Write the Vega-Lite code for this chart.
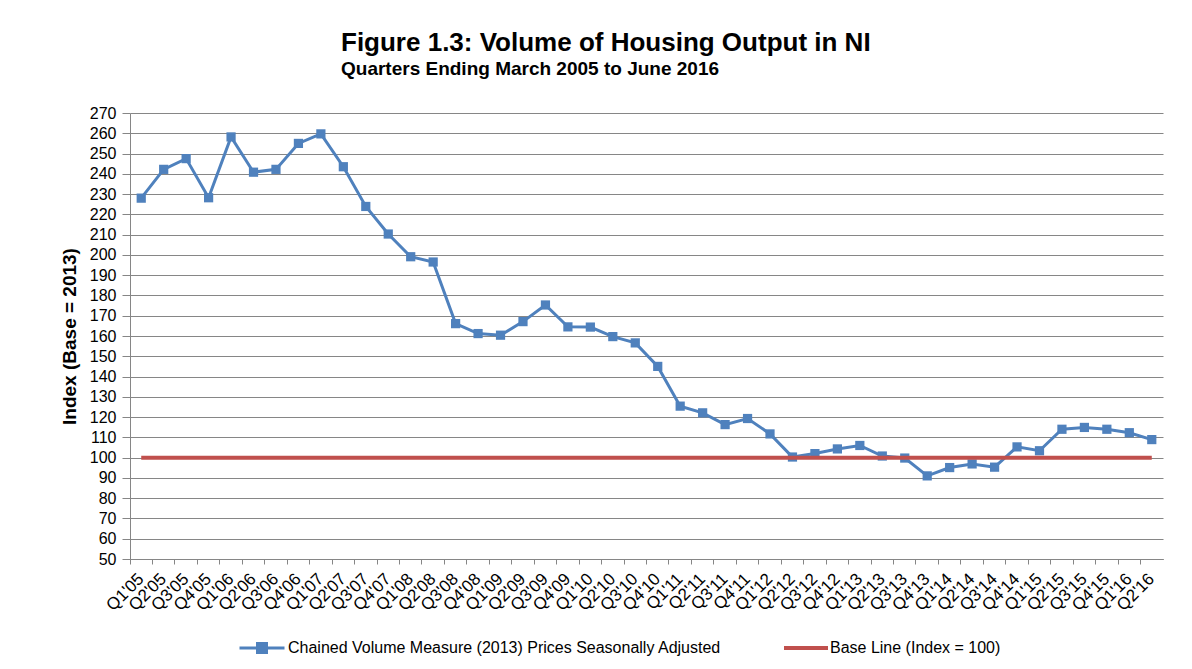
{
  "$schema": "https://vega.github.io/schema/vega-lite/v6.json",
  "width": 1033,
  "height": 446,
  "autosize": {"type": "none"},
  "padding": {"left": 130, "top": 113, "right": 29, "bottom": 110},
  "background": "white",
  "title": {
    "text": "Figure 1.3: Volume of Housing Output in NI",
    "subtitle": "Quarters Ending March 2005 to June 2016",
    "anchor": "start",
    "frame": "group",
    "dx": 211,
    "offset": 26,
    "font": "Liberation Sans",
    "fontSize": 26,
    "fontWeight": "bold",
    "color": "black",
    "subtitleFont": "Liberation Sans",
    "subtitleFontSize": 19,
    "subtitleFontWeight": "bold",
    "subtitleColor": "black",
    "subtitlePadding": 4
  },
  "data": {
    "values": [
      {"q": "Q1'05", "v": 228, "base": 100},
      {"q": "Q2'05", "v": 242.2, "base": 100},
      {"q": "Q3'05", "v": 247.5, "base": 100},
      {"q": "Q4'05", "v": 228.2, "base": 100},
      {"q": "Q1'06", "v": 258.2, "base": 100},
      {"q": "Q2'06", "v": 240.8, "base": 100},
      {"q": "Q3'06", "v": 242.2, "base": 100},
      {"q": "Q4'06", "v": 255, "base": 100},
      {"q": "Q1'07", "v": 259.7, "base": 100},
      {"q": "Q2'07", "v": 243.5, "base": 100},
      {"q": "Q3'07", "v": 223.9, "base": 100},
      {"q": "Q4'07", "v": 210.3, "base": 100},
      {"q": "Q1'08", "v": 199.1, "base": 100},
      {"q": "Q2'08", "v": 196.5, "base": 100},
      {"q": "Q3'08", "v": 166.1, "base": 100},
      {"q": "Q4'08", "v": 161.2, "base": 100},
      {"q": "Q1'09", "v": 160.4, "base": 100},
      {"q": "Q2'09", "v": 167.1, "base": 100},
      {"q": "Q3'09", "v": 175.3, "base": 100},
      {"q": "Q4'09", "v": 164.5, "base": 100},
      {"q": "Q1'10", "v": 164.4, "base": 100},
      {"q": "Q2'10", "v": 159.7, "base": 100},
      {"q": "Q3'10", "v": 156.6, "base": 100},
      {"q": "Q4'10", "v": 145, "base": 100},
      {"q": "Q1'11", "v": 125.4, "base": 100},
      {"q": "Q2'11", "v": 122.1, "base": 100},
      {"q": "Q3'11", "v": 116.3, "base": 100},
      {"q": "Q4'11", "v": 119.3, "base": 100},
      {"q": "Q1'12", "v": 111.7, "base": 100},
      {"q": "Q2'12", "v": 100.3, "base": 100},
      {"q": "Q3'12", "v": 102, "base": 100},
      {"q": "Q4'12", "v": 104.3, "base": 100},
      {"q": "Q1'13", "v": 106, "base": 100},
      {"q": "Q2'13", "v": 100.8, "base": 100},
      {"q": "Q3'13", "v": 99.8, "base": 100},
      {"q": "Q4'13", "v": 91, "base": 100},
      {"q": "Q1'14", "v": 95.1, "base": 100},
      {"q": "Q2'14", "v": 96.9, "base": 100},
      {"q": "Q3'14", "v": 95.3, "base": 100},
      {"q": "Q4'14", "v": 105.3, "base": 100},
      {"q": "Q1'15", "v": 103.4, "base": 100},
      {"q": "Q2'15", "v": 114, "base": 100},
      {"q": "Q3'15", "v": 114.9, "base": 100},
      {"q": "Q4'15", "v": 114, "base": 100},
      {"q": "Q1'16", "v": 112.3, "base": 100},
      {"q": "Q2'16", "v": 108.9, "base": 100}
    ]
  },
  "layer": [
    {
      "mark": {"type": "line", "strokeWidth": 3, "point": {"shape": "square", "size": 85, "filled": true, "opacity": 1}},
      "encoding": {
        "x": {
          "field": "q", "type": "nominal", "sort": null,
          "scale": {"type": "band", "paddingInner": 0, "paddingOuter": 0},
          "axis": {
            "title": null, "orient": "bottom", "ticks": false, "grid": false,
            "labelAngle": -45, "labelAlign": "right", "labelBaseline": "middle",
            "labelFontSize": 17, "labelColor": "black", "labelPadding": 17, "labelDx": 5,
            "domainColor": "#868686", "labelOverlap": false, "labelBound": false
          }
        },
        "y": {
          "field": "v", "type": "quantitative",
          "scale": {"domain": [50, 270], "nice": false, "zero": false},
          "axis": {
            "title": "Index (Base = 2013)",
            "values": [50, 60, 70, 80, 90, 100, 110, 120, 130, 140, 150, 160, 170, 180, 190, 200, 210, 220, 230, 240, 250, 260, 270],
            "labelFontSize": 16, "labelColor": "black", "labelPadding": 6,
            "labelOverlap": false, "labelBound": false,
            "tickSize": 8, "tickColor": "#868686", "domainColor": "#868686",
            "gridColor": "#868686", "gridOpacity": 1,
            "titleFontSize": 19, "titleFontWeight": "bold", "titleColor": "black", "titlePadding": 10
          }
        },
        "color": {
          "datum": "Chained Volume Measure (2013) Prices Seasonally Adjusted",
          "scale": {"range": ["#4F81BD"]},
          "legend": {
            "title": null, "orient": "none", "legendX": 108, "legendY": 511,
            "symbolType": "M-1,0H1M-0.2,-0.2H0.2V0.2H-0.2Z",
            "symbolSize": 2025, "symbolStrokeWidth": 3,
            "symbolStrokeColor": "#4F81BD", "symbolFillColor": "#4F81BD",
            "labelFontSize": 16, "labelColor": "black", "labelOffset": 2, "labelLimit": 600
          }
        }
      }
    },
    {
      "mark": {"type": "line", "strokeWidth": 4},
      "encoding": {
        "x": {
          "field": "q", "type": "nominal", "sort": null,
          "scale": {"type": "band", "paddingInner": 0, "paddingOuter": 0},
          "axis": {
            "title": null, "orient": "bottom", "labels": false, "grid": false,
            "bandPosition": 0, "tickSize": 5, "tickColor": "#868686", "domainColor": "#868686"
          }
        },
        "y": {"field": "base", "type": "quantitative", "axis": null},
        "stroke": {
          "datum": "Base Line (Index = 100)",
          "scale": {"range": ["#C0504D"]},
          "legend": {
            "title": null, "orient": "none", "legendX": 652, "legendY": 511,
            "symbolType": "M-1,0H1",
            "symbolSize": 1936, "symbolStrokeWidth": 4,
            "symbolStrokeColor": "#C0504D",
            "labelFontSize": 16, "labelColor": "black", "labelOffset": 0, "labelLimit": 400
          }
        }
      }
    }
  ],
  "resolve": {"axis": {"x": "independent", "y": "independent"}, "legend": {"color": "independent", "stroke": "independent"}},
  "config": {
    "view": {"stroke": null},
    "font": "Liberation Sans"
  }
}
